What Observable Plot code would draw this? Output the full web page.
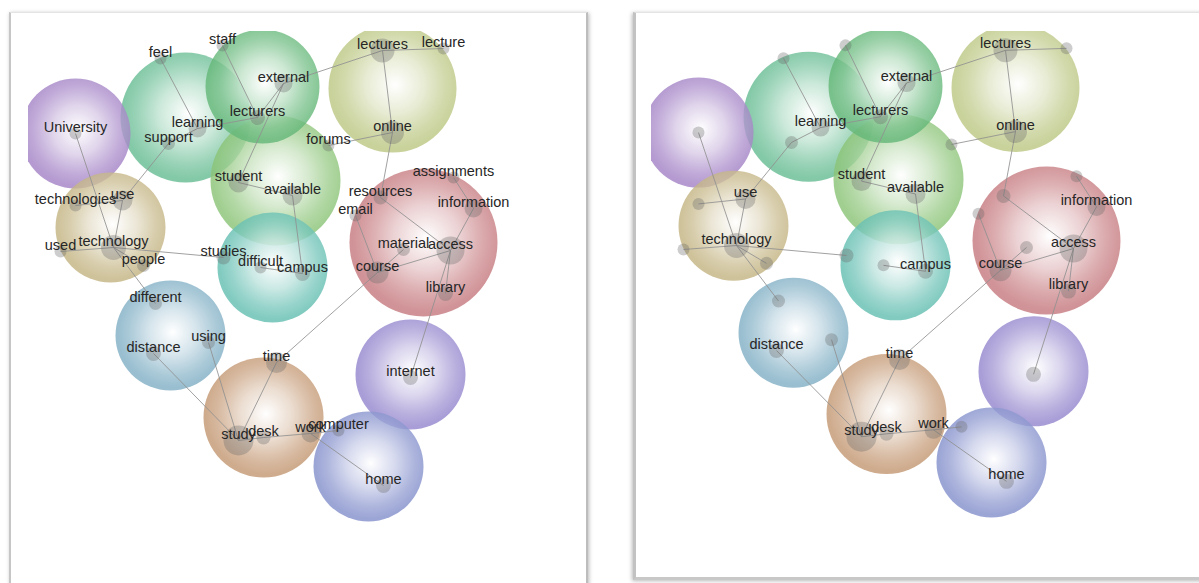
<!DOCTYPE html>
<html><head><meta charset="utf-8">
<script src="https://cdn.jsdelivr.net/npm/d3@7"></script>
<script src="https://cdn.jsdelivr.net/npm/@observablehq/plot@0.6"></script>
<style>
html,body{margin:0;padding:0;background:#fff}
body{width:1199px;height:583px;overflow:hidden;position:relative;font-family:"Liberation Sans",Arial,sans-serif}
.frame{position:absolute;background:#fff;box-sizing:border-box}
#f1{left:9px;top:12px;width:579px;height:640px;border-top:1px solid #e4e4e4;border-left:2px solid #c6c6c6;border-right:2px solid #bdbdbd;box-shadow:1px 1px 4px rgba(0,0,0,.28)}
#f2{left:633px;top:12px;width:640px;height:568px;border-top:1px solid #e4e4e4;border-left:3px solid #c2c2c2;border-bottom:3px solid #c8c8c8;box-shadow:-1px 1px 4px rgba(0,0,0,.28)}
.panel{position:absolute;top:0}
</style></head><body>
<div class="frame" id="f1"></div><div class="frame" id="f2"></div>
<div class="panel" id="p1" style="left:0px"></div>
<div class="panel" id="p2" style="left:623px"></div>
<script>
// Themes (bubbles)
const themeNames  = ["University","learning","lecturers","lectures","available","campus","technology","access","distance","internet","study","home"];
const themeX      = [75, 185, 262, 392, 275, 272, 110, 423, 170, 410, 263, 368];
const themeY      = [133, 117, 86, 88, 180, 267, 227, 242, 335, 374, 417, 466];
const themeR      = [55, 65, 57, 64, 65, 55, 55, 74, 55, 55, 60, 55];
const themeColors = ["#a484c6","#68bd94","#66b87a","#bcc884","#8cc478","#66bfb2","#c4b584","#c67b80","#82b0c5","#9688ce","#c49974","#8692cc"];

// Concepts (dots)
const conceptNames = ["University","feel","staff","learning","support","lecturers","external","lectures","lecture","online","forums","student","available","resources","assignments","email","information","material","access","course","library","technologies","use","used","technology","people","studies","difficult","campus","different","distance","using","time","study","desk","work","computer","internet","home"];
const conceptX = [75,160,222,197,168,257,283,382,443,392,328,238,292,380,453,355,473,403,450,377,445,75,122,60,113,143,223,260,302,155,153,208,276,238,263,310,338,410,383];
const conceptY = [133,58,45,128,143,117,83,50,48,132,145,182,195,197,177,215,208,249,250,272,293,205,200,251,247,265,257,267,273,303,353,342,362,440,437,433,430,377,485];
const conceptSize = [6,6,6,9,6.5,7.5,9,12,6,11.5,6,10,10,7,6,6,9,6.5,14,11,7.5,6,10,6,12.5,6.5,7,6,7.5,6.5,7.5,6.5,10.5,15,7,9,6,7.5,7.5];

// Links between concepts
const linkFrom = ["feel","staff","learning","lecturers","external","external","lectures","lectures","online","online","student","available","campus","learning","support","technologies","use","University","used","technology","technology","technology","resources","assignments","information","email","course","course","access","access","course","time","distance","using","study","desk","work","work"];
const linkTo   = ["learning","lecturers","lecturers","external","student","lectures","lecture","online","forums","resources","available","campus","difficult","support","use","use","technology","technology","technology","people","studies","different","access","information","access","course","access","material","library","internet","time","study","study","study","desk","work","computer","home"];

// Labels shown in the right-hand map
const rightLabels = ["lectures","external","learning","lecturers","online","student","available","use","technology","campus","information","access","course","library","distance","time","work","study","desk","home"];

const themes = themeNames.map((n,i)=>({id:"t"+i,name:n,x:themeX[i],y:themeY[i],r:themeR[i],color:themeColors[i]}));
const concepts = conceptNames.map((n,i)=>({name:n,x:conceptX[i],y:conceptY[i],r:conceptSize[i]}));
const byName = new Map(concepts.map(c=>[c.name,c]));
const links = linkFrom.map((f,i)=>({a:byName.get(f),b:byName.get(linkTo[i])}));

function makePanel(prefix, width, marginBottom, labelFilter){
  const labels = concepts.filter(c=>labelFilter(c.name));
  const svg = Plot.plot({
    width, height:583,
    marginLeft:28, marginTop:31, marginRight:4, marginBottom,
    x:{domain:[28,width-4], axis:null},
    y:{domain:[31,579], reverse:true, axis:null},
    r:{type:"linear", domain:[0,100], range:[0,100]},
    color:{type:"identity"},
    style:{background:"transparent", overflow:"visible", fontFamily:'"Liberation Sans",Arial,sans-serif'},
    marks:[
      Plot.dot(themes,{x:"x",y:"y",r:"r",fill:d=>`url(#${prefix}-${d.id})`,stroke:"none",clip:true}),
      Plot.link(links,{x1:d=>d.a.x,y1:d=>d.a.y,x2:d=>d.b.x,y2:d=>d.b.y,stroke:"#919191",strokeWidth:1,strokeOpacity:0.85}),
      Plot.dot(concepts,{x:"x",y:"y",r:"r",fill:"#666",fillOpacity:0.33,stroke:"none"}),
      Plot.text(labels,{x:"x",y:"y",text:"name",dy:-6.5,fontSize:14.5,fill:"#262626",fontFamily:'"Liberation Sans",Arial,sans-serif'})
    ]
  });
  const ns="http://www.w3.org/2000/svg";
  const defs=document.createElementNS(ns,"defs");
  themes.forEach(t=>{
    const g=document.createElementNS(ns,"radialGradient");
    g.setAttribute("id",`${prefix}-${t.id}`);
    g.setAttribute("cx","52%");g.setAttribute("cy","47%");g.setAttribute("r","50%");
    const stops=[[0,"#ffffff",0.92],[0.45,d3.interpolateRgb("#ffffff",t.color)(0.4),0.86],[0.8,d3.interpolateRgb("#ffffff",t.color)(0.85),0.8],[1,t.color,0.82]];
    stops.forEach(([o,c,a])=>{const s=document.createElementNS(ns,"stop");s.setAttribute("offset",o);s.setAttribute("stop-color",c);s.setAttribute("stop-opacity",a);g.appendChild(s);});
    defs.appendChild(g);
  });
  svg.insertBefore(defs,svg.firstChild);
  return svg;
}

document.getElementById("p1").appendChild(makePanel("L",589,4,()=>true));
const rs=new Set(rightLabels);
document.getElementById("p2").appendChild(makePanel("R",576,9,n=>rs.has(n)));
</script>
</body></html>
